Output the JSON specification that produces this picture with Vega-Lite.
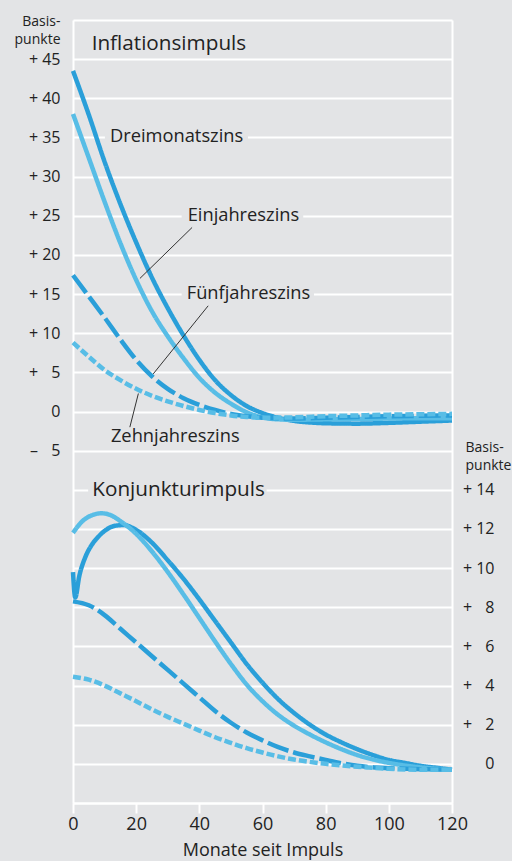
{
  "$schema": "https://vega.github.io/schema/vega-lite/v6.json",
  "width": 379,
  "height": 783,
  "autosize": {"type": "none"},
  "padding": {"left": 73, "top": 20, "right": 60, "bottom": 58},
  "background": "#e3e4e6",
  "config": {"view": {"stroke": null}, "font": "Open Sans"},
  "datasets": {
    "inflation": [
      {"s": "Dreimonatszins", "m": 0, "v": 43.5}, {"s": "Dreimonatszins", "m": 5, "v": 37.9}, {"s": "Dreimonatszins", "m": 10, "v": 31.9}, {"s": "Dreimonatszins", "m": 15, "v": 26.5}, {"s": "Dreimonatszins", "m": 20, "v": 21.6}, {"s": "Dreimonatszins", "m": 25, "v": 17.1}, {"s": "Dreimonatszins", "m": 30, "v": 13.2}, {"s": "Dreimonatszins", "m": 35, "v": 9.7}, {"s": "Dreimonatszins", "m": 40, "v": 6.6}, {"s": "Dreimonatszins", "m": 45, "v": 4.0}, {"s": "Dreimonatszins", "m": 50, "v": 2.1}, {"s": "Dreimonatszins", "m": 55, "v": 0.7}, {"s": "Dreimonatszins", "m": 60, "v": -0.2}, {"s": "Dreimonatszins", "m": 65, "v": -0.8}, {"s": "Dreimonatszins", "m": 70, "v": -1.2}, {"s": "Dreimonatszins", "m": 75, "v": -1.4}, {"s": "Dreimonatszins", "m": 80, "v": -1.5}, {"s": "Dreimonatszins", "m": 90, "v": -1.55}, {"s": "Dreimonatszins", "m": 100, "v": -1.45}, {"s": "Dreimonatszins", "m": 110, "v": -1.3}, {"s": "Dreimonatszins", "m": 120, "v": -1.15},
      {"s": "Einjahreszins", "m": 0, "v": 38}, {"s": "Einjahreszins", "m": 5, "v": 32.4}, {"s": "Einjahreszins", "m": 10, "v": 26.8}, {"s": "Einjahreszins", "m": 15, "v": 21.5}, {"s": "Einjahreszins", "m": 20, "v": 16.8}, {"s": "Einjahreszins", "m": 25, "v": 12.8}, {"s": "Einjahreszins", "m": 30, "v": 9.6}, {"s": "Einjahreszins", "m": 35, "v": 6.8}, {"s": "Einjahreszins", "m": 40, "v": 4.3}, {"s": "Einjahreszins", "m": 45, "v": 2.4}, {"s": "Einjahreszins", "m": 50, "v": 1.0}, {"s": "Einjahreszins", "m": 55, "v": -0.1}, {"s": "Einjahreszins", "m": 60, "v": -0.75}, {"s": "Einjahreszins", "m": 65, "v": -1.0}, {"s": "Einjahreszins", "m": 70, "v": -1.05}, {"s": "Einjahreszins", "m": 80, "v": -1.0}, {"s": "Einjahreszins", "m": 90, "v": -0.95}, {"s": "Einjahreszins", "m": 100, "v": -0.9}, {"s": "Einjahreszins", "m": 110, "v": -0.85}, {"s": "Einjahreszins", "m": 120, "v": -0.85},
      {"s": "Fünfjahreszins", "m": 0, "v": 17.4}, {"s": "Fünfjahreszins", "m": 5, "v": 14.7}, {"s": "Fünfjahreszins", "m": 10, "v": 12.0}, {"s": "Fünfjahreszins", "m": 15, "v": 9.2}, {"s": "Fünfjahreszins", "m": 20, "v": 6.6}, {"s": "Fünfjahreszins", "m": 25, "v": 4.5}, {"s": "Fünfjahreszins", "m": 30, "v": 2.9}, {"s": "Fünfjahreszins", "m": 35, "v": 1.7}, {"s": "Fünfjahreszins", "m": 40, "v": 0.85}, {"s": "Fünfjahreszins", "m": 45, "v": 0.2}, {"s": "Fünfjahreszins", "m": 50, "v": -0.3}, {"s": "Fünfjahreszins", "m": 55, "v": -0.6}, {"s": "Fünfjahreszins", "m": 60, "v": -0.8}, {"s": "Fünfjahreszins", "m": 70, "v": -0.9}, {"s": "Fünfjahreszins", "m": 80, "v": -0.8}, {"s": "Fünfjahreszins", "m": 90, "v": -0.7}, {"s": "Fünfjahreszins", "m": 100, "v": -0.6}, {"s": "Fünfjahreszins", "m": 110, "v": -0.55}, {"s": "Fünfjahreszins", "m": 120, "v": -0.5},
      {"s": "Zehnjahreszins", "m": 0, "v": 8.8}, {"s": "Zehnjahreszins", "m": 5, "v": 7.0}, {"s": "Zehnjahreszins", "m": 10, "v": 5.3}, {"s": "Zehnjahreszins", "m": 15, "v": 4.0}, {"s": "Zehnjahreszins", "m": 20, "v": 2.9}, {"s": "Zehnjahreszins", "m": 25, "v": 2.0}, {"s": "Zehnjahreszins", "m": 30, "v": 1.3}, {"s": "Zehnjahreszins", "m": 35, "v": 0.7}, {"s": "Zehnjahreszins", "m": 40, "v": 0.2}, {"s": "Zehnjahreszins", "m": 45, "v": -0.2}, {"s": "Zehnjahreszins", "m": 50, "v": -0.5}, {"s": "Zehnjahreszins", "m": 55, "v": -0.7}, {"s": "Zehnjahreszins", "m": 60, "v": -0.8}, {"s": "Zehnjahreszins", "m": 70, "v": -0.75}, {"s": "Zehnjahreszins", "m": 80, "v": -0.6}, {"s": "Zehnjahreszins", "m": 90, "v": -0.5}, {"s": "Zehnjahreszins", "m": 100, "v": -0.4}, {"s": "Zehnjahreszins", "m": 110, "v": -0.35}, {"s": "Zehnjahreszins", "m": 120, "v": -0.3}
    ],
    "konjunktur": [
      {"s": "Dreimonatszins", "m": 0, "v": 9.8}, {"s": "Dreimonatszins", "m": 0.7, "v": 8.5}, {"s": "Dreimonatszins", "m": 2, "v": 9.6}, {"s": "Dreimonatszins", "m": 4, "v": 10.6}, {"s": "Dreimonatszins", "m": 6, "v": 11.2}, {"s": "Dreimonatszins", "m": 8, "v": 11.6}, {"s": "Dreimonatszins", "m": 10, "v": 11.9}, {"s": "Dreimonatszins", "m": 13, "v": 12.15}, {"s": "Dreimonatszins", "m": 16, "v": 12.2}, {"s": "Dreimonatszins", "m": 20, "v": 11.95}, {"s": "Dreimonatszins", "m": 25, "v": 11.3}, {"s": "Dreimonatszins", "m": 30, "v": 10.4}, {"s": "Dreimonatszins", "m": 35, "v": 9.45}, {"s": "Dreimonatszins", "m": 40, "v": 8.4}, {"s": "Dreimonatszins", "m": 45, "v": 7.3}, {"s": "Dreimonatszins", "m": 50, "v": 6.2}, {"s": "Dreimonatszins", "m": 55, "v": 5.1}, {"s": "Dreimonatszins", "m": 60, "v": 4.15}, {"s": "Dreimonatszins", "m": 65, "v": 3.3}, {"s": "Dreimonatszins", "m": 70, "v": 2.6}, {"s": "Dreimonatszins", "m": 75, "v": 2.0}, {"s": "Dreimonatszins", "m": 80, "v": 1.5}, {"s": "Dreimonatszins", "m": 85, "v": 1.1}, {"s": "Dreimonatszins", "m": 90, "v": 0.75}, {"s": "Dreimonatszins", "m": 95, "v": 0.45}, {"s": "Dreimonatszins", "m": 100, "v": 0.2}, {"s": "Dreimonatszins", "m": 105, "v": 0.05}, {"s": "Dreimonatszins", "m": 110, "v": -0.1}, {"s": "Dreimonatszins", "m": 115, "v": -0.2}, {"s": "Dreimonatszins", "m": 120, "v": -0.3},
      {"s": "Einjahreszins", "m": 0, "v": 11.8}, {"s": "Einjahreszins", "m": 3, "v": 12.4}, {"s": "Einjahreszins", "m": 6, "v": 12.7}, {"s": "Einjahreszins", "m": 9, "v": 12.8}, {"s": "Einjahreszins", "m": 12, "v": 12.7}, {"s": "Einjahreszins", "m": 15, "v": 12.4}, {"s": "Einjahreszins", "m": 20, "v": 11.75}, {"s": "Einjahreszins", "m": 25, "v": 10.85}, {"s": "Einjahreszins", "m": 30, "v": 9.8}, {"s": "Einjahreszins", "m": 35, "v": 8.65}, {"s": "Einjahreszins", "m": 40, "v": 7.45}, {"s": "Einjahreszins", "m": 45, "v": 6.25}, {"s": "Einjahreszins", "m": 50, "v": 5.1}, {"s": "Einjahreszins", "m": 55, "v": 4.05}, {"s": "Einjahreszins", "m": 60, "v": 3.2}, {"s": "Einjahreszins", "m": 65, "v": 2.5}, {"s": "Einjahreszins", "m": 70, "v": 1.95}, {"s": "Einjahreszins", "m": 75, "v": 1.5}, {"s": "Einjahreszins", "m": 80, "v": 1.1}, {"s": "Einjahreszins", "m": 85, "v": 0.75}, {"s": "Einjahreszins", "m": 90, "v": 0.45}, {"s": "Einjahreszins", "m": 95, "v": 0.22}, {"s": "Einjahreszins", "m": 100, "v": 0.05}, {"s": "Einjahreszins", "m": 110, "v": -0.18}, {"s": "Einjahreszins", "m": 120, "v": -0.3},
      {"s": "Fünfjahreszins", "m": 0, "v": 8.3}, {"s": "Fünfjahreszins", "m": 5, "v": 8.1}, {"s": "Fünfjahreszins", "m": 10, "v": 7.6}, {"s": "Fünfjahreszins", "m": 15, "v": 6.9}, {"s": "Fünfjahreszins", "m": 20, "v": 6.2}, {"s": "Fünfjahreszins", "m": 25, "v": 5.5}, {"s": "Fünfjahreszins", "m": 30, "v": 4.8}, {"s": "Fünfjahreszins", "m": 35, "v": 4.1}, {"s": "Fünfjahreszins", "m": 40, "v": 3.4}, {"s": "Fünfjahreszins", "m": 45, "v": 2.7}, {"s": "Fünfjahreszins", "m": 50, "v": 2.1}, {"s": "Fünfjahreszins", "m": 55, "v": 1.6}, {"s": "Fünfjahreszins", "m": 60, "v": 1.2}, {"s": "Fünfjahreszins", "m": 65, "v": 0.85}, {"s": "Fünfjahreszins", "m": 70, "v": 0.58}, {"s": "Fünfjahreszins", "m": 75, "v": 0.38}, {"s": "Fünfjahreszins", "m": 80, "v": 0.2}, {"s": "Fünfjahreszins", "m": 85, "v": 0.03}, {"s": "Fünfjahreszins", "m": 90, "v": -0.1}, {"s": "Fünfjahreszins", "m": 100, "v": -0.22}, {"s": "Fünfjahreszins", "m": 110, "v": -0.27}, {"s": "Fünfjahreszins", "m": 120, "v": -0.3},
      {"s": "Zehnjahreszins", "m": 0, "v": 4.45}, {"s": "Zehnjahreszins", "m": 5, "v": 4.3}, {"s": "Zehnjahreszins", "m": 10, "v": 4.0}, {"s": "Zehnjahreszins", "m": 15, "v": 3.6}, {"s": "Zehnjahreszins", "m": 20, "v": 3.2}, {"s": "Zehnjahreszins", "m": 25, "v": 2.78}, {"s": "Zehnjahreszins", "m": 30, "v": 2.4}, {"s": "Zehnjahreszins", "m": 35, "v": 2.05}, {"s": "Zehnjahreszins", "m": 40, "v": 1.7}, {"s": "Zehnjahreszins", "m": 45, "v": 1.36}, {"s": "Zehnjahreszins", "m": 50, "v": 1.07}, {"s": "Zehnjahreszins", "m": 55, "v": 0.8}, {"s": "Zehnjahreszins", "m": 60, "v": 0.58}, {"s": "Zehnjahreszins", "m": 65, "v": 0.38}, {"s": "Zehnjahreszins", "m": 70, "v": 0.22}, {"s": "Zehnjahreszins", "m": 75, "v": 0.1}, {"s": "Zehnjahreszins", "m": 80, "v": 0.0}, {"s": "Zehnjahreszins", "m": 90, "v": -0.15}, {"s": "Zehnjahreszins", "m": 100, "v": -0.25}, {"s": "Zehnjahreszins", "m": 110, "v": -0.3}, {"s": "Zehnjahreszins", "m": 120, "v": -0.3}
    ],
    "gaps": [
      {"m": 10.1, "m2": 55.4, "v": 34.4, "v2": 35.6},
      {"m": 34.4, "m2": 72.9, "v": 24.4, "v2": 25.6},
      {"m": 34.4, "m2": 76.3, "v": 14.4, "v2": 15.6},
      {"m": 4.8, "m2": 61.3, "v": -9.4, "v2": -10.6}
    ],
    "leaders": [
      {"m": 37.7, "v": 23.5, "m2": 21.2, "v2": 17.0},
      {"m": 42.8, "v": 13.5, "m2": 25.4, "v2": 4.8},
      {"m": 20.7, "v": 2.3, "m2": 18.0, "v2": -2.0}
    ],
    "titles": [
      {"t": "Inflationsimpuls", "m": 5.9, "v": 46.9},
      {"t": "Konjunkturimpuls", "m": 6.1, "v": -10}
    ],
    "labels": [
      {"t": "Dreimonatszins", "m": 11.7, "v": 35},
      {"t": "Einjahreszins", "m": 36.3, "v": 25},
      {"t": "Fünfjahreszins", "m": 36, "v": 15},
      {"t": "Zehnjahreszins", "m": 12, "v": -3.3}
    ]
  },
  "layer": [
    {
      "encoding": {
        "x": {"field": "m", "type": "quantitative", "scale": {"domain": [0, 120], "nice": false, "zero": false},
          "axis": {"values": [0, 20, 40, 60, 80, 100, 120], "grid": false, "domain": true, "domainColor": "white", "domainWidth": 2, "ticks": true, "tickColor": "white", "tickWidth": 2, "tickSize": 10, "labelFontSize": 18, "labelColor": "#222", "labelPadding": 2, "labelFlush": false, "title": "Monate seit Impuls", "titleFontSize": 18, "titleFontWeight": "normal", "titleColor": "#222", "titlePadding": 8}},
        "y": {"field": "v", "type": "quantitative", "scale": {"domain": [-50, 50], "nice": false, "zero": false},
          "axis": {"values": [-50, -45, -40, -35, -30, -25, -20, -15, -10, -5, 0, 5, 10, 15, 20, 25, 30, 35, 40, 45, 50], "grid": true, "gridColor": "white", "gridWidth": 2, "gridOpacity": 1, "domain": true, "domainColor": "white", "domainWidth": 2, "ticks": false, "labelOverlap": false, "labelFontSize": 16, "labelColor": "#222", "labelPadding": 13, "labelExpr": "datum.value > 45 || datum.value < -5 ? '' : datum.value > 0 ? '+ ' + (datum.value < 10 ? '\u2007' : '') + datum.value : datum.value < 0 ? '\u2013 \u2007' + (-datum.value) : '0'", "title": ["Basis-", "punkte"], "titleAngle": 0, "titleAlign": "right", "titleBaseline": "alphabetic", "titleX": -13, "titleY": 5, "titleFontSize": 14, "titleFontWeight": "normal", "titleLineHeight": 18, "titleColor": "#222"}}
      },
      "layer": [
        {
          "data": {"name": "gaps"},
          "mark": {"type": "rect", "fill": "#e3e4e6"},
          "encoding": {"x2": {"field": "m2"}, "y2": {"field": "v2"}}
        },
        {
          "data": {"name": "inflation"},
          "mark": {"type": "line", "strokeWidth": 4.5, "interpolate": "monotone", "strokeCap": "butt"},
          "encoding": {
            "color": {"field": "s", "type": "nominal", "scale": {"domain": ["Dreimonatszins", "Einjahreszins", "Fünfjahreszins", "Zehnjahreszins"], "range": ["#2a9fd9", "#58bde6", "#2a9fd9", "#58bde6"]}, "legend": null},
            "strokeDash": {"field": "s", "type": "nominal", "scale": {"domain": ["Dreimonatszins", "Einjahreszins", "Fünfjahreszins", "Zehnjahreszins"], "range": [[1, 0], [1, 0], [22, 5], [8, 3]]}, "legend": null}
          }
        },
        {
          "data": {"name": "leaders"},
          "mark": {"type": "rule", "color": "#333333", "strokeWidth": 1},
          "encoding": {"x2": {"field": "m2"}, "y2": {"field": "v2"}}
        },
        {
          "data": {"name": "titles"},
          "mark": {"type": "text", "align": "left", "baseline": "middle", "fontSize": 20.7, "color": "#222"},
          "encoding": {"text": {"field": "t"}}
        },
        {
          "data": {"name": "labels"},
          "mark": {"type": "text", "align": "left", "baseline": "middle", "fontSize": 18.3, "color": "#222"},
          "encoding": {"text": {"field": "t"}}
        }
      ]
    },
    {
      "data": {"name": "konjunktur"},
      "mark": {"type": "line", "strokeWidth": 4.5, "interpolate": "monotone", "strokeCap": "butt"},
      "encoding": {
        "x": {"field": "m", "type": "quantitative", "scale": {"domain": [0, 120], "nice": false, "zero": false},
          "axis": {"values": [0, 20, 40, 60, 80, 100, 120], "grid": false, "domain": true, "domainColor": "white", "domainWidth": 2, "ticks": true, "tickColor": "white", "tickWidth": 2, "tickSize": 10, "labelFontSize": 18, "labelColor": "#222", "labelPadding": 2, "labelFlush": false, "title": "Monate seit Impuls", "titleFontSize": 18, "titleFontWeight": "normal", "titleColor": "#222", "titlePadding": 8}},
        "y": {"field": "v", "type": "quantitative", "scale": {"domain": [-2, 38], "nice": false, "zero": false},
          "axis": {"orient": "right", "values": [0, 2, 4, 6, 8, 10, 12, 14], "grid": false, "domain": true, "domainColor": "white", "domainWidth": 2, "ticks": false, "labelOverlap": false, "labelFontSize": 16, "labelColor": "#222", "labelAlign": "right", "labelPadding": 42, "labelExpr": "datum.value > 0 ? '+ ' + (datum.value < 10 ? '\u2007' : '') + datum.value : '0'", "title": ["Basis-", "punkte"], "titleAngle": 0, "titleAlign": "left", "titleBaseline": "alphabetic", "titleX": 13, "titleY": 431, "titleFontSize": 14, "titleFontWeight": "normal", "titleLineHeight": 18, "titleColor": "#222"}},
        "color": {"field": "s", "type": "nominal", "scale": {"domain": ["Dreimonatszins", "Einjahreszins", "Fünfjahreszins", "Zehnjahreszins"], "range": ["#2a9fd9", "#58bde6", "#2a9fd9", "#58bde6"]}, "legend": null},
        "strokeDash": {"field": "s", "type": "nominal", "scale": {"domain": ["Dreimonatszins", "Einjahreszins", "Fünfjahreszins", "Zehnjahreszins"], "range": [[1, 0], [1, 0], [22, 5], [8, 3]]}, "legend": null}
      }
    }
  ],
  "resolve": {"scale": {"y": "independent"}}
}
